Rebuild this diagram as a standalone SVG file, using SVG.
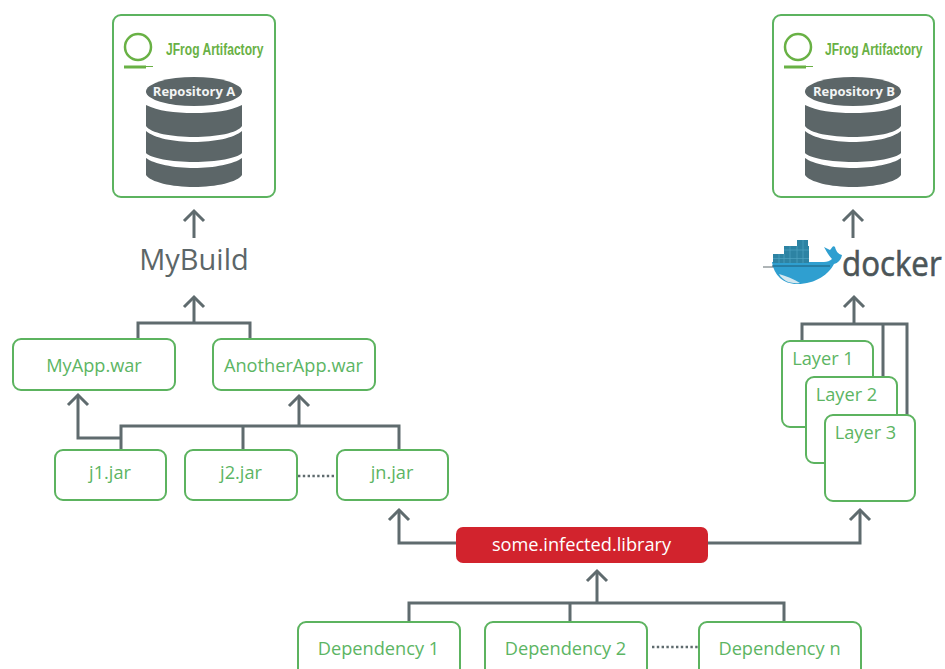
<svg xmlns="http://www.w3.org/2000/svg" width="945" height="669" viewBox="0 0 945 669">
<style>
text{font-family:"Open Sans","Noto Sans",sans-serif}
.box{fill:#fff;stroke:#5cb35f;stroke-width:2}
.lbl{fill:#5cb563;font-size:18.2px;text-anchor:middle}
.con{fill:none;stroke:#5f6b6e;stroke-width:3}
.dot{fill:none;stroke:#5f6b6e;stroke-width:2.4;stroke-dasharray:2.4 2.4}
.cyl{fill:#5c6668}
.jf{fill:#69b145;font-family:"Liberation Sans",sans-serif;font-size:17px;font-weight:700}
.rep{fill:#f2f4f4;font-size:13px;font-weight:700;text-anchor:middle}
.logo{fill:none;stroke:#69b145;stroke-width:2.5}
.c1{fill:#2d83a3}
</style>
<defs>
<marker id="arr" markerUnits="userSpaceOnUse" markerWidth="26" markerHeight="26" refX="13" refY="13" orient="auto">
<path d="M3 3L13 13L3 23" fill="none" stroke="#5f6b6e" stroke-width="3"/>
</marker>
<g id="cylinder">
<ellipse class="cyl" cx="48" cy="14.500" rx="48" ry="14.500"/>
<path class="cyl" d="M0 28C12 34 28 36 48 36S84 34 96 28V49C92 56 70 60 48 60S4 56 0 49Z"/>
<path class="cyl" d="M0 54C8 61 28 65 48 65S88 61 96 54V76C92 81 70 85 48 85S4 81 0 76Z"/>
<path class="cyl" d="M0 81C8 87 28 91 48 91S88 87 96 81V98C92 105 70 110 48 110S4 105 0 98Z"/>
</g>
<g id="logo">
<circle class="logo" cx="14" cy="14" r="13"/>
<path d="M0 34H22" stroke="#69b145" stroke-width="3"/>
<path d="M22 33.500H29" stroke="#69b145" stroke-width="1"/>
</g>
</defs>

<g id="connectors">
<path class="con" marker-end="url(#arr)" d="M194 238V211"/>
<path class="con" d="M138 339V323H250V339"/>
<path class="con" marker-end="url(#arr)" d="M194 323V297"/>
<path class="con" marker-end="url(#arr)" d="M121 438H78V395"/>
<path class="con" d="M121 450V426H399V450M243 426V450"/>
<path class="con" marker-end="url(#arr)" d="M299 426V396"/>
<path class="dot" d="M298 476H336"/>
<path class="con" marker-end="url(#arr)" d="M456 543H399V510"/>
<path class="con" marker-end="url(#arr)" d="M708 543H860V510"/>
<path class="con" d="M409 622V603H784V622M570 603V622"/>
<path class="con" marker-end="url(#arr)" d="M597 603V571"/>
<path class="dot" d="M652 647H698"/>
<path class="con" marker-end="url(#arr)" d="M853 238V211"/>
<path class="con" marker-end="url(#arr)" d="M854 324V297"/>
<path class="con" d="M802 342V324H907V415M883 324V378"/>
</g>

<g id="repo-a">
<rect class="box" x="113" y="15" width="162" height="182" rx="8"/>
<use href="#logo" x="124" y="33"/>
<text class="jf" transform="translate(166,55) scale(.71,1)">JFrog Artifactory</text>
<use href="#cylinder" x="146" y="77"/>
<text class="rep" x="194" y="96">Repository A</text>
</g>
<g id="repo-b">
<rect class="box" x="773" y="15" width="161" height="182" rx="8"/>
<use href="#logo" x="784" y="33"/>
<text class="jf" transform="translate(825,55) scale(.71,1)">JFrog Artifactory</text>
<use href="#cylinder" x="805" y="77"/>
<text class="rep" x="854" y="96">Repository B</text>
</g>

<g id="mybuild"><text x="194" y="270" text-anchor="middle" font-size="29" fill="#5c6668">MyBuild</text></g>

<g id="docker">
<path d="M763 267H775" stroke="#5f6b6e" stroke-width="1"/>
<path fill="#2f9fd0" d="M772 262H824C827 262 830 261 832 259C828 255 826 250 824 247L830 250C832 248 833 245 835 247C836 251 838 254 842 255C841 260 838 263 834 264C829 274 816 284 797 284C783 284 774 275 772 262Z"/>
<path d="M779 274C786 276 794 279 800 283C790 284 783 281 779 274Z" fill="#d5e8f0"/>
<path d="M772 266H830" stroke="#1f5d78" stroke-width="1"/>
<g class="c1">
<rect x="773" y="254" width="36" height="9"/>
<rect x="784" y="246" width="25" height="8"/>
<rect x="797" y="240" width="11" height="6"/>
</g>
<path d="M779 254V263M784 254V263M790 246V263M797 246V263M803 240V263M773 258.500H809M784 250H809" stroke="#4fa3c2" stroke-width=".7" fill="none"/>
<text transform="translate(842,276) scale(.92,1)" font-size="34" fill="#4b5558" stroke="#4b5558" stroke-width=".6">docker</text>
</g>

<g id="myapp"><rect class="box" x="13" y="339" width="162" height="51" rx="8"/><text class="lbl" x="94" y="372">MyApp.war</text></g>
<g id="anotherapp"><rect class="box" x="213" y="339" width="162" height="51" rx="8"/><text class="lbl" x="293.500" y="372">AnotherApp.war</text></g>
<g id="j1"><rect class="box" x="55" y="450" width="111" height="50" rx="8"/><text class="lbl" x="110" y="479">j1.jar</text></g>
<g id="j2"><rect class="box" x="185" y="450" width="112" height="50" rx="8"/><text class="lbl" x="241" y="479">j2.jar</text></g>
<g id="jn"><rect class="box" x="337" y="450" width="111" height="50" rx="8"/><text class="lbl" x="392" y="479">jn.jar</text></g>

<g id="layer1"><rect class="box" x="782" y="341" width="91" height="86" rx="8"/><text class="lbl" x="823" y="365">Layer 1</text></g>
<g id="layer2"><rect class="box" x="806" y="377" width="91" height="86" rx="8"/><text class="lbl" x="846.500" y="401">Layer 2</text></g>
<g id="layer3"><rect class="box" x="825" y="415" width="90" height="86" rx="8"/><text class="lbl" x="865.500" y="439">Layer 3</text></g>

<g id="infected"><rect x="456" y="527" width="252" height="36" rx="7" fill="#d2232d"/><text x="581.500" y="551" font-size="18.200" fill="#fff" text-anchor="middle">some.infected.library</text></g>

<g id="dep1"><rect class="box" x="298" y="622" width="162" height="60" rx="8"/><text class="lbl" x="378.500" y="655">Dependency 1</text></g>
<g id="dep2"><rect class="box" x="485" y="622" width="162" height="60" rx="8"/><text class="lbl" x="565.500" y="655">Dependency 2</text></g>
<g id="depn"><rect class="box" x="699" y="622" width="162" height="60" rx="8"/><text class="lbl" x="779.500" y="655">Dependency n</text></g>
</svg>
